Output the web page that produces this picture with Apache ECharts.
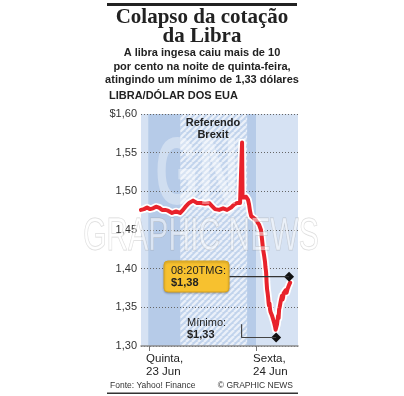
<!DOCTYPE html>
<html><head><meta charset="utf-8">
<script src="https://cdn.jsdelivr.net/npm/echarts@6/dist/echarts.min.js"></script>
<style>html,body{margin:0;padding:0;background:#fff}#c{width:404px;height:396px}</style>
</head><body><div id="c"></div>
<script>
// hours since Thursday 23 Jun 00:00
const hours = [-1.8,-1.12,-0.45,0.22,0.9,1.57,2.24,2.92,3.59,4.26,5.16,6.06,6.95,7.63,8.3,8.97,9.87,10.77,11.66,12.56,13.46,14.13,14.8,15.7,16.6,17.5,18.39,19.07,19.74,20.41,20.75,20.86,20.97,21.3,21.76,22.2,22.43,22.66,22.9,23.33,23.78,24.2,24.67,25.1,25.35,25.57,25.8,26.0,26.1,26.24,26.3,26.35,26.47,26.6,26.7,26.8,26.9,27.0,27.14,27.25,27.37,27.48,27.59,27.7,27.8,27.92,28.04,28.15,28.26,28.38,28.49,28.6,28.7,28.82,28.94,29.05,29.16,29.28,29.39,29.5,29.6,29.7,29.8,29.93,30.06,30.17,30.28,30.4,30.5,30.62,30.73,30.84,30.95,31.07,31.18,31.3,31.4,31.52,31.63];
const rate  = [1.476,1.477,1.479,1.477,1.478,1.480,1.479,1.476,1.476,1.475,1.472,1.474,1.472,1.476,1.481,1.485,1.488,1.485,1.485,1.484,1.485,1.481,1.477,1.476,1.478,1.476,1.479,1.483,1.485,1.485,1.485,1.563,1.492,1.494,1.493,1.489,1.483,1.474,1.468,1.466,1.464,1.462,1.457,1.450,1.437,1.425,1.417,1.409,1.402,1.396,1.390,1.383,1.373,1.368,1.363,1.356,1.352,1.355,1.347,1.344,1.342,1.345,1.339,1.337,1.335,1.333,1.330,1.328,1.325,1.321,1.323,1.321,1.328,1.334,1.339,1.336,1.347,1.350,1.352,1.357,1.360,1.358,1.365,1.360,1.363,1.368,1.369,1.366,1.368,1.372,1.373,1.369,1.370,1.374,1.375,1.373,1.379,1.377,1.382];
const dayTicks = [0, 24];
const dayLabels = ['Quinta,\n23 Jun', 'Sexta,\n24 Jun'];
const yMin = 1.30, yMax = 1.60, yStep = 0.05;
const xMin = -1.8, xMax = 33.4;
const lightBands = [[-1.8, -0.2], [24, 33.4]];
const dayBand = [-0.2, 24];
const pollBand = [7, 22];
const lastQuote = { hour: 31.4, value: 1.3897, boxHour: 17.95, text: '08:20TMG:', label: '$1,38' };
const minimum = { hour: 28.5, value: 1.311, fromHour: 20.75, fromValue: 1.328, text: 'Mínimo:', label: '$1,33' };

const SANS = '"Liberation Sans", Arial, sans-serif';
const SERIF = '"Liberation Serif", "Times New Roman", serif';

function hatch() {
  const c = document.createElement('canvas'); c.width = 6; c.height = 6;
  const g = c.getContext('2d');
  g.fillStyle = '#c1d3ec'; g.fillRect(0, 0, 6, 6);
  g.strokeStyle = '#eaf0f9'; g.lineWidth = 2.3;
  for (const k of [-6, 0, 6]) { g.beginPath(); g.moveTo(k, 6); g.lineTo(k + 6, 0); g.stroke(); }
  return c;
}

const pts = hours.map((h, i) => [h, rate[i]]);
const labelShift = 0.67; // labels start slightly left of their tick
const chart = echarts.init(document.getElementById('c'), null, { renderer: 'canvas' });

const areas = [];
lightBands.forEach(b => areas.push([{ xAxis: b[0], itemStyle: { color: '#d6e2f3' } }, { xAxis: b[1] }]));
areas.push([{ xAxis: dayBand[0], itemStyle: { color: '#b6cbe8' } }, { xAxis: dayBand[1] }]);
areas.push([{ xAxis: pollBand[0], itemStyle: { color: { image: hatch(), repeat: 'repeat' } } }, { xAxis: pollBand[1] }]);

function txt(text, x, y, font, align, fill, extra) {
  return Object.assign({ type: 'text', x, y, z: 120, style: { text, font, fill: fill || '#222', textAlign: align || 'left', textVerticalAlign: 'middle' } }, extra || {});
}

chart.setOption({
  animation: false,
  grid: { left: 141, right: 106, top: 114, bottom: 50 },
  xAxis: {
    type: 'value', min: xMin, max: xMax, z: 2,
    splitLine: { show: false },
    axisLine: { lineStyle: { color: '#8a8a8a', width: 1.5 } },
    axisTick: { show: true, length: 5, customValues: dayTicks, lineStyle: { color: '#777' } },
    axisLabel: {
      customValues: dayTicks.map(v => v - labelShift), align: 'left', margin: 6, lineHeight: 13,
      color: '#222', fontSize: 11.5, fontFamily: SANS,
      formatter: v => dayLabels[dayTicks.indexOf(Math.round(v + labelShift))] || ''
    }
  },
  yAxis: {
    type: 'value', min: yMin, max: yMax, interval: yStep, z: 2,
    axisLine: { show: false }, axisTick: { show: false },
    splitLine: { lineStyle: { color: '#666', type: [1, 2], width: 1 } },
    axisLabel: {
      margin: 4, color: '#333', fontSize: 11, fontFamily: SANS,
      formatter: v => (Math.abs(v - yMax) < 1e-6 ? '$' : '') + v.toFixed(2).replace('.', ',')
    }
  },
  series: [
    {
      name: 'halo', type: 'line', data: pts, z: 3, showSymbol: false, silent: true,
      lineStyle: { color: '#fff', width: 7.5, join: 'round', cap: 'round' },
      markArea: { silent: true, data: areas }
    },
    {
      name: 'GBP/USD', type: 'line', data: pts, z: 4, showSymbol: false,
      lineStyle: { color: '#e8222b', width: 4, join: 'round', cap: 'round' }
    },
    {
      name: 'quote', type: 'line', z: 6, showSymbol: false, silent: true,
      data: [[lastQuote.boxHour, lastQuote.value], [lastQuote.hour, lastQuote.value]],
      lineStyle: { color: '#333', width: 1.2 },
      markPoint: { symbol: 'diamond', symbolSize: 10, itemStyle: { color: '#111' }, label: { show: false },
        data: [{ coord: [lastQuote.hour, lastQuote.value] }] }
    },
    {
      name: 'min', type: 'line', z: 6, showSymbol: false, silent: true,
      data: [[minimum.fromHour, minimum.fromValue], [minimum.fromHour, minimum.value], [minimum.hour, minimum.value]],
      lineStyle: { color: '#444', width: 1.2 },
      markPoint: { symbol: 'diamond', symbolSize: 10, itemStyle: { color: '#111' }, label: { show: false },
        data: [{ coord: [minimum.hour, minimum.value] }] }
    }
  ],
  graphic: [
    { type: 'rect', shape: { x: 107, y: 3, width: 190, height: 3 }, style: { fill: '#222' }, z: 120 },
    txt('Colapso da cotação', 202, 18, 'bold 21px ' + SERIF, 'center'),
    txt('da Libra', 202, 36.5, 'bold 21px ' + SERIF, 'center'),
    txt('A libra ingesa caiu mais de 10', 202, 53, 'bold 11px ' + SANS, 'center'),
    txt('por cento na noite de quinta-feira,', 202, 66.5, 'bold 11px ' + SANS, 'center'),
    txt('atingindo um mínimo de 1,33 dólares', 202, 79.5, 'bold 11px ' + SANS, 'center'),
    txt('LIBRA/DÓLAR DOS EUA', 109, 95.5, 'bold 11px ' + SANS, 'left'),
    // watermark
    { type: 'text', x: 197, y: 178, z: 110, scaleX: 0.58, silent: true,
      style: { text: 'GN', font: 'bold 96px ' + SANS, fill: 'rgba(255,255,255,0.36)', textAlign: 'center', textVerticalAlign: 'middle' } },
    { type: 'text', x: 201, y: 237, z: 110, scaleX: 0.64, silent: true,
      style: { text: 'GRAPHIC NEWS', font: '47px ' + SANS, fill: 'rgba(255,255,255,0.5)', stroke: 'rgba(140,140,140,0.35)', lineWidth: 1, textAlign: 'center', textVerticalAlign: 'middle' } },
    // annotations
    txt('Referendo', 213, 123, 'bold 11px ' + SANS, 'center'),
    txt('Brexit', 213, 135, 'bold 11px ' + SANS, 'center'),
    { type: 'rect', z: 115, shape: { x: 164, y: 261, width: 65, height: 31, r: 4 }, style: { fill: '#f7c12f', stroke: '#d9a41e', lineWidth: 1, shadowColor: 'rgba(0,0,0,0.25)', shadowBlur: 2, shadowOffsetY: 1 } },
    txt(lastQuote.text, 171, 271, '11px ' + SANS, 'left'),
    txt(lastQuote.label, 171, 283, 'bold 11px ' + SANS, 'left'),
    txt(minimum.text, 187, 322.5, '11px ' + SANS, 'left'),
    txt(minimum.label, 187, 335, 'bold 11px ' + SANS, 'left'),
    txt('Fonte: Yahoo! Finance', 110, 386, '8.5px ' + SANS, 'left', '#333'),
    txt('© GRAPHIC NEWS', 293, 386, '8.5px ' + SANS, 'right', '#333'),
    { type: 'rect', shape: { x: 107, y: 392.5, width: 191, height: 1.5 }, style: { fill: '#333' }, z: 120 }
  ]
});
</script>
</body></html>
